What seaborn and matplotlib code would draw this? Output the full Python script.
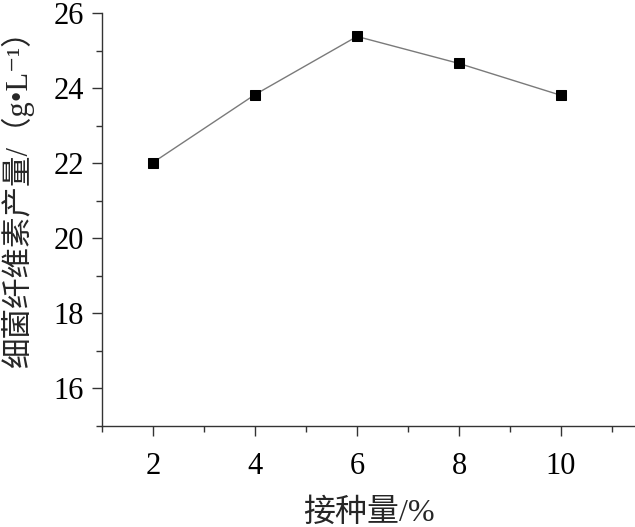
import matplotlib
matplotlib.use("Agg")
import matplotlib.pyplot as plt
import seaborn as sns
import pandas as pd

# data
inoculum = [2, 4, 6, 8, 10]
yield_bc = [22.02, 23.83, 25.38, 24.66, 23.81]

df = pd.DataFrame({"inoculum": inoculum, "yield": yield_bc})

sns.set_style("ticks")
plt.rcParams["font.family"] = ["Liberation Serif", "Noto Sans CJK SC", "DejaVu Sans"]
plt.rcParams["axes.unicode_minus"] = False

fig = plt.figure(figsize=(6.35, 5.27), dpi=100)
ax = fig.add_axes([0.1606, 0.1917, 0.8394, 0.7833])

sns.lineplot(data=df, x="inoculum", y="yield", ax=ax, color="#7a7a7a", linewidth=1.0,
             marker="s", markersize=7.5, markerfacecolor="black", markeredgecolor="black")

ax.set_xlim(1, 11.45)
ax.set_ylim(15, 26)
ax.set_xticks([2, 4, 6, 8, 10])
ax.set_xticks([1, 3, 5, 7, 9, 11], minor=True)
ax.set_yticks([16, 18, 20, 22, 24, 26])
ax.set_yticks([15, 17, 19, 21, 23, 25], minor=True)

for side in ["top", "right"]:
    ax.spines[side].set_visible(False)
for side in ["left", "bottom"]:
    ax.spines[side].set_color("#333333")
    ax.spines[side].set_linewidth(1.0)

ax.tick_params(which="major", direction="out", length=7, width=1, colors="#333333",
               labelsize=22, labelcolor="black", pad=6)
ax.tick_params(axis="x", which="major", pad=12)
ax.tick_params(which="minor", direction="out", length=4, width=1, colors="#333333")

ax.set_xlabel("接种量/%", fontsize=23, labelpad=12)
ax.set_ylabel("细菌纤维素产量/（g•L⁻¹）", fontsize=22)
ax.yaxis.set_label_coords(-0.128, 0.57)

fig.savefig("out.png", dpi=100)
